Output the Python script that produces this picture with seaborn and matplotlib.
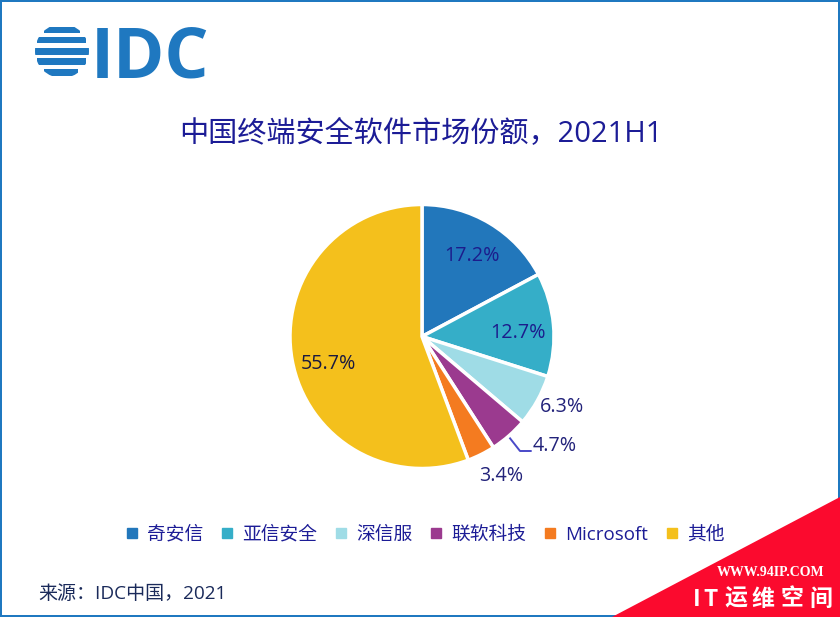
import matplotlib
matplotlib.use("Agg")
import matplotlib.pyplot as plt
import seaborn as sns
from matplotlib.lines import Line2D
from matplotlib.patches import Circle, Polygon, Rectangle

vendors = ["奇安信", "亚信安全", "深信服", "联软科技", "Microsoft", "其他"]
shares = [17.2, 12.7, 6.3, 4.7, 3.4, 55.7]
colors = ["#2277bb", "#35aec8", "#9fdce6", "#9b3a8f", "#f47b20", "#f4c01c"]

title = "中国终端安全软件市场份额，2021H1"
source = "来源：IDC中国，2021"
mark_chars = ["I", "T", "运", "维", "空", "间"]

sns.set_style("white")
plt.rcParams["font.family"] = ["Open Sans", "Noto Sans CJK SC", "DejaVu Sans"]

NAVY = "#1c1c96"
BLUE = "#1f78c0"

fig = plt.figure(figsize=(8.4, 6.17), dpi=100)

# pixel coordinates overlay for logo, border, watermark
bg = fig.add_axes([0, 0, 1, 1])
bg.set_xlim(0, 840)
bg.set_ylim(617, 0)
bg.axis("off")

for r in [(0, 0, 840, 2), (0, 0, 2, 617), (838, 0, 2, 617), (0, 615, 840, 2)]:
    bg.add_patch(Rectangle((r[0], r[1]), r[2], r[3], color=BLUE, lw=0))

# logo
clip = Circle((62, 51), 27, transform=bg.transData)
for y, h, x0, x1 in [(27, 6, 44, 80), (37, 6, 37, 86), (48, 7, 34, 90), (58, 7, 37, 86), (69, 7, 44, 78)]:
    bar = Rectangle((x0, y), x1 - x0, h, color=BLUE, lw=0)
    bg.add_patch(bar)
    bar.set_clip_path(clip)
bg.text(91, 51, "IDC", color=BLUE, fontsize=50, family="Open Sans", weight="bold",
        va="center_baseline", ha="left")

bg.text(421, 135, title, color=NAVY, fontsize=21, ha="center", va="center")
bg.text(38, 594, source, color="#1a2a5a", fontsize=13.7, ha="left", va="center")

# watermark
bg.add_patch(Polygon([(612, 617), (840, 497), (840, 617)], color="#fb0a2e", lw=0))
bg.text(771, 572, "WWW.94IP.COM", color="white", fontsize=10, weight="bold",
        family="Liberation Serif", ha="center", va="center")
for ch, x in zip(mark_chars, [697, 711, 736, 763, 792, 821]):
    bg.text(x, 599, ch, color="white", fontsize=16.5, weight="bold",
            family=["Noto Sans CJK SC"], ha="center", va="center")

# pie
cx, cy, rad = 422, 336.5, 132
half = rad * 1.25
ax = fig.add_axes([(cx - half) / 840, (617 - cy - half) / 617, 2 * half / 840, 2 * half / 617])
wedges, _, autotexts = ax.pie(
    shares,
    colors=colors,
    startangle=90,
    counterclock=False,
    autopct="%.1f%%",
    wedgeprops={"edgecolor": "white", "linewidth": 2.5},
)
ax.set_xlim(-1.25, 1.25)
ax.set_ylim(-1.25, 1.25)
ax.patch.set_alpha(0)

label_px = [(472, 256), (518, 333), (562, 407), (555, 446), (501, 476), (328, 364)]
label_colors = ["#1c1c8c", "#1c1c8c", "#22227a", "#22227a", "#22227a", "#1a1a40"]
for t, (px, py), c in zip(autotexts, label_px, label_colors):
    t.set_position(((px - cx) / rad, (cy - py) / rad))
    t.set_color(c)
    t.set_fontsize(14.2)
    t.set_ha("center")
    t.set_va("center")

# leader line for the 4.7% label
bg.plot([509, 520, 531], [437, 451, 451], color="#4a4ac8", lw=1.4)

handles = [
    Line2D([], [], linestyle="none", marker="s", markersize=6.5, color=c) for c in colors
]
fig.legend(
    handles,
    vendors,
    ncol=6,
    loc="center",
    bbox_to_anchor=(425 / 840, 1 - 534.5 / 617),
    frameon=False,
    fontsize=13.5,
    labelcolor=NAVY,
    handlelength=0.7,
    handletextpad=0.45,
    columnspacing=0.93,
)

fig.savefig("out.png", dpi=100)
